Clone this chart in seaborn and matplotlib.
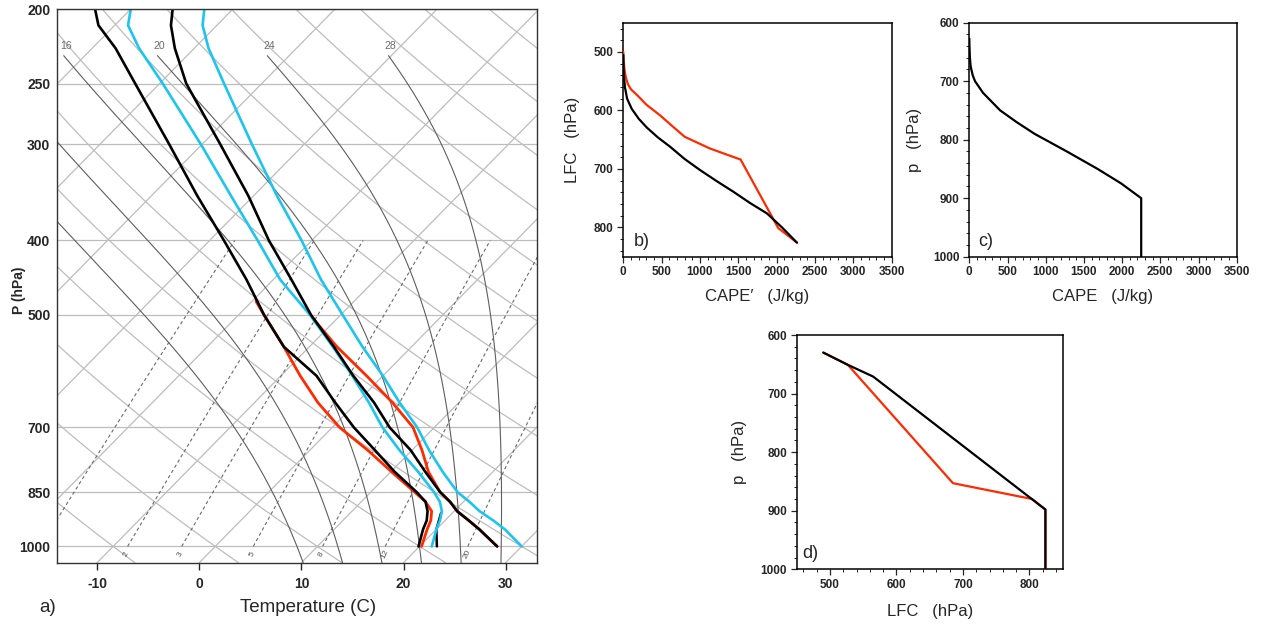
import numpy as np
import pandas as pd
import matplotlib
matplotlib.use("Agg")
import matplotlib.pyplot as plt
from matplotlib.ticker import MultipleLocator, NullLocator, FixedLocator
import seaborn as sns

# ------------------------------------------------------------------ data
# panel a : soundings (pressure hPa, temperature C)
P_SND = [1000, 950, 925, 900, 875, 850, 800, 750, 700, 650, 600, 550, 500,
         450, 400, 350, 300, 250, 225, 210, 200]
T_BLACK_COOL = [19.9, 18.7, 18.2, 17.4, 16.3, 14.5, 10.4, 6.4, 2.1, -2.1, -6.5,
                -12.5, -17.5, -22.6, -28.6, -35.5, -43.2, -52.4, -57.7, -61.6, -63.5]
T_BLACK_WARM = [27.6, 24.2, 22.3, 20.3, 18.7, 16.8, 13.4, 9.9, 5.6, 1.7, -2.9,
                -7.6, -12.9, -18.2, -24.2, -30.5, -38.2, -47.4, -51.9, -54.5, -55.9]
T_BLUE_COOL = [21.2, 20.0, 19.5, 18.8, 17.7, 16.2, 12.7, 8.8, 4.9, 1.2, -3.0,
               -7.7, -13.0, -19.3, -25.3, -32.2, -40.1, -49.7, -55.4, -58.7, -60.0]
T_BLUE_WARM = [30.0, 26.7, 24.7, 22.5, 20.6, 18.5, 15.1, 11.7, 8.3, 4.2, 0.0,
               -4.8, -9.8, -15.3, -21.0, -27.7, -35.1, -43.7, -48.6, -51.4, -52.8]
P_RED_COOL = [1000, 950, 925, 900, 875, 850, 800, 750, 700, 650, 600, 550, 500, 480]
T_RED_COOL = [20.2, 19.1, 18.6, 17.8, 16.3, 14.3, 10.1, 5.7, 0.7, -3.8, -8.1,
              -12.5, -17.5, -19.6]
P_RED_WARM = [1000, 950, 925, 900, 875, 850, 800, 750, 700, 650, 600, 550, 505]
T_RED_WARM = [27.6, 24.2, 22.3, 20.3, 18.7, 16.8, 13.7, 11.0, 7.9, 3.5, -1.6,
              -7.3, -12.4]
P_BLACK_SFC = [905, 925, 950, 1000]
T_BLACK_SFC = [18.9, 19.4, 20.0, 21.7]

# panel a : background
ISOBARS = [1000, 850, 700, 500, 400, 300, 250, 200]
TEMP_TICKS = [-10, 0, 10, 20, 30]
MOIST_T1000 = [8, 12, 16, 20, 24, 28]
MOIST_LABELED = [16, 20, 24, 28]
MIXING_RATIOS = [1, 2, 3, 5, 8, 12, 20]

# panel b : CAPE' vs LFC
CAPEP_BLACK = [0, 3, 10, 22, 50, 109, 200, 305, 450, 610, 800, 1002, 1220,
               1436, 1650, 1873, 2070, 2265]
LFC_B_BLACK = [505, 525, 545, 561, 580, 597, 614, 629, 646, 662, 683, 702, 721,
               739, 758, 776, 800, 826]
CAPEP_RED = [0, 5, 15, 35, 60, 100, 190, 300, 476, 650, 800, 1129, 1530, 2020, 2265]
LFC_B_RED = [500, 515, 530, 545, 555, 564, 575, 590, 608, 628, 645, 665, 684, 801, 826]

# panel c : CAPE vs p
P_C = [627, 640, 660, 675, 690, 700, 720, 750, 770, 790, 820, 850, 875, 900, 1000]
CAPE_C = [0, 2, 8, 18, 45, 75, 180, 405, 620, 855, 1275, 1680, 1990, 2250, 2250]

# panel d : LFC vs p
LFC_D_BLACK = [490, 527, 565, 824, 824]
P_D_BLACK = [630, 651, 671, 898, 1000]
LFC_D_RED = [490, 527, 685, 804, 824, 824]
P_D_RED = [630, 651, 853, 880, 898, 1000]

# ------------------------------------------------------------------ style
sns.set_theme(style="white")
plt.rcParams["font.family"] = ["Liberation Sans", "DejaVu Sans"]
plt.rcParams["axes.unicode_minus"] = False
plt.rcParams["axes.edgecolor"] = "black"
plt.rcParams["axes.linewidth"] = 1.0

BLACK = "#000000"
RED = "#ff2a00"
BLUE = "#1cc4f0"
LIGHT = "#bdbdbd"
DARK = "#5e5e5e"

K_SKEW = 32.14
P_BOT, P_TOP = 1050.0, 200.0


def skew_x(t, p):
    return np.asarray(t, float) + K_SKEW * np.log(P_BOT / np.asarray(p, float))


def dTdp(T, p):
    Tc = T - 273.15
    es = 6.112 * np.exp(17.67 * Tc / (Tc + 243.5))
    rs = 0.622 * es / (p - es)
    Rd, cp, Lv, eps = 287.04, 1005.7, 2.501e6, 0.622
    num = (Rd * T + Lv * rs) / p
    den = cp + (Lv ** 2 * rs * eps) / (Rd * T ** 2)
    return num / den


def moist_path(t0c, p_end, dp):
    p, T = 1000.0, t0c + 273.15
    ps, Ts = [p], [T]
    n = int(round(abs(p_end - 1000.0) / abs(dp)))
    for _ in range(n):
        k1 = dTdp(T, p)
        k2 = dTdp(T + 0.5 * dp * k1, p + 0.5 * dp)
        T += dp * k2
        p += dp
        ps.append(p)
        Ts.append(T)
    return np.array(ps), np.array(Ts) - 273.15


def td_from_w(w, p):
    e = w * p / (622.0 + w)
    a = np.log(e / 6.112)
    return 243.5 * a / (17.67 - a)


fig = plt.figure(figsize=(12.62, 6.28), dpi=100)
W, H = 1262.0, 628.0


def add_axes_px(l, t, r, b):
    return fig.add_axes([l / W, 1 - b / H, (r - l) / W, (b - t) / H])


# ================================================================== panel a
axa = add_axes_px(57.3, 9.0, 537.3, 562.7)
axa.set_yscale("log")
p_full = np.geomspace(P_BOT, P_TOP, 200)

for pb in ISOBARS:
    axa.plot([-60, 80], [pb, pb], color=LIGHT, lw=0.9, zorder=1)
for t0 in range(-110, 50, 10):
    axa.plot(skew_x(np.full_like(p_full, t0), p_full), p_full, color=LIGHT, lw=0.9, zorder=1)
for th in range(-40, 180, 10):
    tt = (th + 273.15) * (p_full / 1000.0) ** 0.2857 - 273.15
    axa.plot(skew_x(tt, p_full), p_full, color=LIGHT, lw=0.9, zorder=1)

for t0 in MOIST_T1000:
    pu, tu = moist_path(t0, 230.0, -2.0)
    pdn, tdn = moist_path(t0, 1050.0, 2.0)
    pp = np.concatenate([pdn[::-1], pu[1:]])
    tt = np.concatenate([tdn[::-1], tu[1:]])
    axa.plot(skew_x(tt, pp), pp, color=DARK, lw=0.8, zorder=1.5)
    if t0 in MOIST_LABELED:
        axa.text(skew_x(tu[-1], 230.0) + 0.2, 223.5, str(t0), color="#6a6a6a",
                 fontsize=7.5, ha="center", va="center", zorder=2)

p_mix = np.geomspace(1000, 400, 60)
for w in MIXING_RATIOS:
    axa.plot(skew_x(td_from_w(w, p_mix), p_mix), p_mix, color="#6a6a6a", lw=0.8,
             ls=(0, (3, 2.5)), zorder=1.5)
    xl = skew_x(td_from_w(w, 1023.0), 1023.0)
    if -13 < xl < 32:
        axa.text(xl + 0.3, 1023.0, str(w), color="#555555", fontsize=6, rotation=65,
                 ha="center", va="center", zorder=2)


def sline(ax, x, y, color, lw, z):
    sns.lineplot(x=np.asarray(x, float), y=np.asarray(y, float), ax=ax, sort=False,
                 estimator=None, color=color, linewidth=lw, zorder=z, legend=False)


sline(axa, skew_x(T_RED_COOL, P_RED_COOL), P_RED_COOL, RED, 2.0, 3)
sline(axa, skew_x(T_RED_WARM, P_RED_WARM), P_RED_WARM, RED, 2.0, 3)
sline(axa, skew_x(T_BLACK_SFC, P_BLACK_SFC), P_BLACK_SFC, BLACK, 1.8, 3.2)
sline(axa, skew_x(T_BLUE_COOL, P_SND), P_SND, BLUE, 1.9, 3.5)
sline(axa, skew_x(T_BLUE_WARM, P_SND), P_SND, BLUE, 1.9, 3.5)
sline(axa, skew_x(T_BLACK_COOL, P_SND), P_SND, BLACK, 1.9, 4)
sline(axa, skew_x(T_BLACK_WARM, P_SND), P_SND, BLACK, 1.9, 4)

axa.set_xlim(-13.9, 33.1)
axa.set_ylim(P_BOT, P_TOP)
axa.yaxis.set_major_locator(FixedLocator(ISOBARS))
axa.yaxis.set_minor_locator(NullLocator())
axa.set_yticklabels([str(v) for v in ISOBARS])
axa.set_xticks(TEMP_TICKS)
axa.set_xticklabels([str(v) for v in TEMP_TICKS])
axa.tick_params(axis="y", length=0, pad=5, labelsize=10)
axa.tick_params(axis="x", direction="out", length=5, width=1.0, pad=5, labelsize=10, bottom=True)
for lab in axa.get_xticklabels() + axa.get_yticklabels():
    lab.set_fontweight("bold")
axa.set_xlabel("")
axa.set_ylabel("")
for s in axa.spines.values():
    s.set_linewidth(1.0)
    s.set_color("#333333")
    s.set_zorder(6)

fig.text(19 / W, 1 - 290 / H, "P (hPa)", rotation=90, ha="center", va="center",
         fontsize=10, fontweight="bold")
fig.text(308.5 / W, 1 - 607 / H, "Temperature (C)", ha="center", va="center", fontsize=13.5)
fig.text(39 / W, 1 - 607 / H, "a)", ha="left", va="center", fontsize=13.5)


# ================================================================== small panels
def style_small(ax, xmaj, xmin, ymaj, ymin):
    ax.xaxis.set_major_locator(MultipleLocator(xmaj))
    ax.xaxis.set_minor_locator(MultipleLocator(xmin))
    ax.yaxis.set_major_locator(MultipleLocator(ymaj))
    ax.yaxis.set_minor_locator(MultipleLocator(ymin))
    ax.tick_params(which="major", direction="out", length=4, width=0.9, labelsize=8.5,
                   pad=3, bottom=True, left=True, top=False, right=False)
    ax.tick_params(which="minor", direction="out", length=2.3, width=0.7,
                   bottom=True, left=True, top=False, right=False)
    for lab in ax.get_xticklabels() + ax.get_yticklabels():
        lab.set_fontweight("bold")
    ax.set_xlabel("")
    ax.set_ylabel("")
    for s in ax.spines.values():
        s.set_linewidth(1.1)
        s.set_color("black")


# panel b
axb = add_axes_px(623.3, 22.7, 891.7, 256.7)
sline(axb, CAPEP_RED, LFC_B_RED, RED, 1.6, 3)
sline(axb, CAPEP_BLACK, LFC_B_BLACK, BLACK, 1.6, 3.5)
axb.set_xlim(0, 3500)
axb.set_ylim(850, 450)
style_small(axb, 500, 100, 100, 20)
axb.set_yticks([500, 600, 700, 800])
axb.yaxis.set_minor_locator(MultipleLocator(20))
for lab in axb.get_yticklabels():
    lab.set_fontweight("bold")
axb.text(-0.19, 0.5, "LFC   (hPa)", transform=axb.transAxes, rotation=90,
         ha="center", va="center", fontsize=12)
axb.text(0.5, -0.172, "CAPE\u2032   (J/kg)", transform=axb.transAxes,
         ha="center", va="center", fontsize=12)
axb.text(0.04, 0.03, "b)", transform=axb.transAxes, ha="left", va="bottom", fontsize=13)

# panel c
axc = add_axes_px(969.3, 22.7, 1236.7, 256.7)
sline(axc, CAPE_C, P_C, BLACK, 1.6, 3)
axc.set_xlim(0, 3500)
axc.set_ylim(1000, 600)
style_small(axc, 500, 100, 100, 20)
axc.text(-0.205, 0.5, "p   (hPa)", transform=axc.transAxes, rotation=90,
         ha="center", va="center", fontsize=12)
axc.text(0.5, -0.172, "CAPE   (J/kg)", transform=axc.transAxes,
         ha="center", va="center", fontsize=12)
axc.text(0.034, 0.03, "c)", transform=axc.transAxes, ha="left", va="bottom", fontsize=13)

# panel d
axd = add_axes_px(796.7, 335.0, 1062.7, 569.3)
sline(axd, LFC_D_RED, P_D_RED, RED, 1.6, 3)
sline(axd, LFC_D_BLACK, P_D_BLACK, BLACK, 1.6, 3.5)
axd.set_xlim(450, 850)
axd.set_ylim(1000, 600)
style_small(axd, 100, 20, 100, 20)
axd.set_xticks([500, 600, 700, 800])
axd.xaxis.set_minor_locator(MultipleLocator(20))
for lab in axd.get_xticklabels():
    lab.set_fontweight("bold")
axd.text(-0.215, 0.5, "p   (hPa)", transform=axd.transAxes, rotation=90,
         ha="center", va="center", fontsize=12)
axd.text(0.5, -0.181, "LFC   (hPa)", transform=axd.transAxes,
         ha="center", va="center", fontsize=12)
axd.text(0.02, 0.03, "d)", transform=axd.transAxes, ha="left", va="bottom", fontsize=13)

fig.savefig("out.png", dpi=100, facecolor="white")
